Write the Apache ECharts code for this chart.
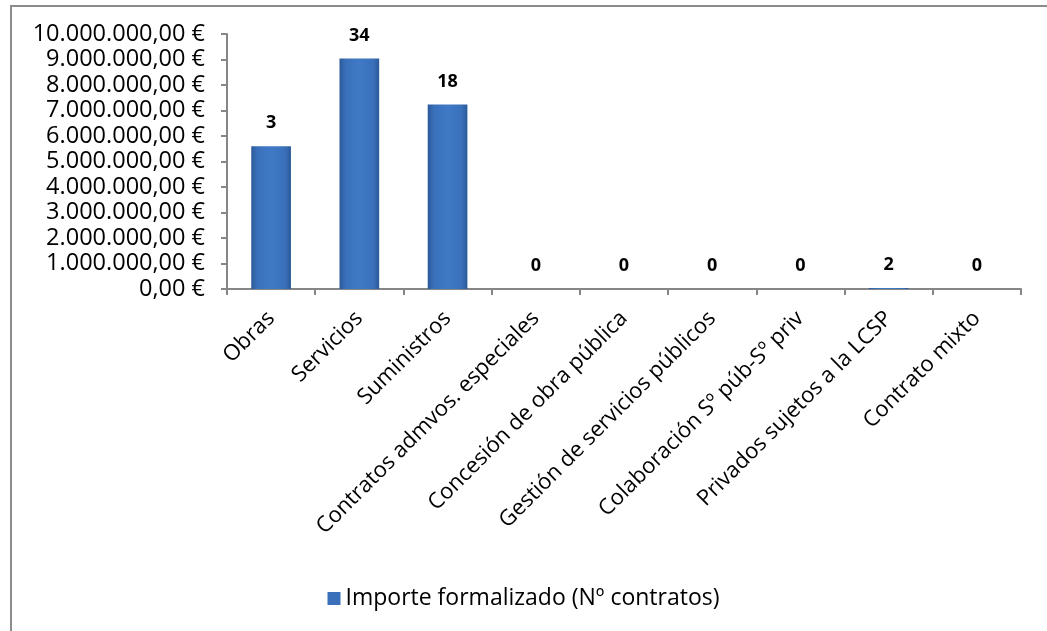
<!DOCTYPE html>
<html>
<head>
<meta charset="utf-8">
<script src="https://cdn.jsdelivr.net/npm/echarts@6/dist/echarts.min.js"></script>
<style>
html,body{margin:0;padding:0;background:#fff;}
#chart{width:1047px;height:631px;}
</style>
</head>
<body>
<div id="chart"></div>
<script>
const categories = ["Obras","Servicios","Suministros","Contratos admvos. especiales","Concesión de obra pública","Gestión de servicios públicos","Colaboración Sº púb-Sº priv","Privados sujetos a la LCSP","Contrato mixto"];
const importe = [5600000, 9040000, 7240000, 0, 0, 0, 0, 40000, 0];
const numContratos = [3, 34, 18, 0, 0, 0, 0, 2, 0];
const seriesName = "Importe formalizado (Nº contratos)";

const FONT = "Open Sans";

function fmtEuro(v){
  const s = Math.round(v).toString().replace(/\B(?=(\d{3})+(?!\d))/g, ".");
  return s + ",00 €";
}

const chart = echarts.init(document.getElementById('chart'));
const barColor = new echarts.graphic.LinearGradient(0,0,1,0,[
  {offset:0,color:'#2b5a98'},
  {offset:0.15,color:'#3a70ba'},
  {offset:0.5,color:'#3f79c6'},
  {offset:0.85,color:'#3a70ba'},
  {offset:1,color:'#2b5a98'}
]);
chart.setOption({
  animation:false,
  textStyle:{fontFamily:FONT},
  graphic:[{
    type:'rect',
    shape:{x:11,y:6,width:1200,height:800},
    style:{fill:'none',stroke:'#8c8c8c',lineWidth:2},
    silent:true,
    z:-10
  }],
  grid:{left:227,right:26,top:34,bottom:342,containLabel:false},
  legend:{
    bottom:16,
    left:'center',
    itemWidth:13,
    itemHeight:13,
    itemGap:8,
    icon:'rect',
    textStyle:{fontFamily:FONT,fontSize:23,color:'#000'},
    data:[{name:seriesName,itemStyle:{color:'#3a70ba'}}]
  },
  xAxis:{
    type:'category',
    data:categories,
    axisLine:{lineStyle:{color:'#868686',width:2}},
    axisTick:{show:true,alignWithLabel:false,length:6,lineStyle:{color:'#868686',width:2}},
    axisLabel:{rotate:45,margin:26,interval:0,fontFamily:FONT,fontSize:22,color:'#000'}
  },
  yAxis:{
    type:'value',
    min:0,max:10000000,interval:1000000,
    axisLine:{show:true,lineStyle:{color:'#868686',width:2}},
    axisTick:{show:true,length:6,lineStyle:{color:'#868686',width:2}},
    splitLine:{show:false},
    axisLabel:{formatter:fmtEuro,margin:22,fontFamily:FONT,fontSize:23.5,color:'#000'}
  },
  series:[{
    name:seriesName,
    type:'bar',
    data:importe,
    barWidth:'45%',
    itemStyle:{color:barColor},
    label:{
      show:true,
      position:'top',
      distance:14,
      fontFamily:FONT,
      fontWeight:'bold',
      fontSize:18,
      color:'#000',
      formatter:function(p){return numContratos[p.dataIndex];}
    }
  }]
});
</script>
</body>
</html>
